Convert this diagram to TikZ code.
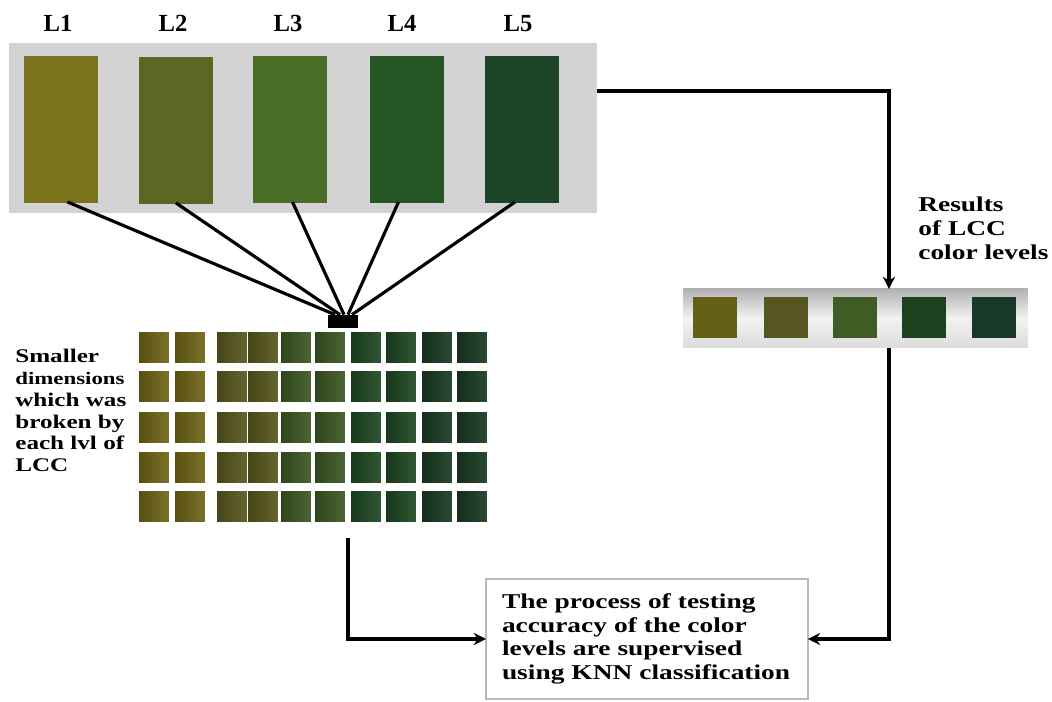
\documentclass[tikz,border=0pt]{standalone}
\usepackage{fontspec}
\setmainfont{Liberation Serif}
\newfontfamily\widefont{Liberation Serif}[FakeStretch=1.3]
\usetikzlibrary{arrows.meta}
\definecolor{panelgray}{RGB}{211,211,211}
\definecolor{lv1}{RGB}{122,114,28}
\definecolor{lv2}{RGB}{94,102,36}
\definecolor{lv3}{RGB}{72,110,40}
\definecolor{lv4}{RGB}{38,86,36}
\definecolor{lv5}{RGB}{28,68,38}
\definecolor{gc1}{RGB}{112,102,22}
\definecolor{gc2}{RGB}{88,88,30}
\definecolor{gc3}{RGB}{60,88,34}
\definecolor{gc4}{RGB}{30,72,34}
\definecolor{gc5}{RGB}{24,58,34}
\definecolor{rc1}{RGB}{102,96,22}
\definecolor{rc2}{RGB}{86,86,32}
\definecolor{rc3}{RGB}{62,92,36}
\definecolor{rc4}{RGB}{30,66,32}
\definecolor{rc5}{RGB}{24,56,40}
\begin{document}
\begin{tikzpicture}[x=0.02cm,y=-0.02cm,
  box/.style={rectangle, inner sep=0pt, outer sep=0pt, anchor=north west},
  swatch/.style={box, minimum width=1.48cm, minimum height=2.94cm},
  cell/.style={box, minimum width=0.6cm, minimum height=0.6cm},
  rsq/.style={box, minimum width=0.88cm, minimum height=0.82cm},
  lvl/.style={inner sep=0pt, anchor=base, font=\fontsize{14}{16}\selectfont\bfseries},
  wtext/.style={inner sep=0pt, align=left, font=\widefont\bfseries},
  conn/.style={line width=1.8pt, black},
  arr/.style={conn, -{Stealth[length=7pt,width=7pt]}}]
\useasboundingbox (0,0) rectangle (1052,702);
\fill[white] (0,0) rectangle (1052,702);

% top panel with the five LCC levels
\node[box, fill=panelgray, minimum width=11.76cm, minimum height=3.4cm] (panel) at (9,43) {};
\node[swatch, fill=lv1] (s1) at (24,56) {};
\node[swatch, fill=lv2] (s2) at (139,57) {};
\node[swatch, fill=lv3] (s3) at (253,56) {};
\node[swatch, fill=lv4] (s4) at (370,56) {};
\node[swatch, fill=lv5] (s5) at (485,56) {};
\node[lvl] (t1) at (58,32) {L1};
\node[lvl] (t2) at (173,32) {L2};
\node[lvl] (t3) at (288,32) {L3};
\node[lvl] (t4) at (402,32) {L4};
\node[lvl] (t5) at (518,32) {L5};

% hub where the lines meet
\node[rectangle, fill=black, inner sep=0pt, minimum width=0.6cm, minimum height=0.26cm] (hub) at (343,321.5) {};
\draw[conn] ([xshift=0.13cm,yshift=0.02cm]s1.south) -- ([xshift=-0.16cm]hub.north);
\draw[conn] ([xshift=0cm,yshift=0.02cm]s2.south) -- ([xshift=-0.06cm]hub.north);
\draw[conn] ([xshift=0.05cm,yshift=0.02cm]s3.south) -- ([xshift=0.02cm]hub.north);
\draw[conn] ([xshift=-0.17cm,yshift=0.02cm]s4.south) -- ([xshift=0.1cm]hub.north);
\draw[conn] ([xshift=-0.14cm,yshift=0.02cm]s5.south) -- ([xshift=0.18cm]hub.north);

% grid of smaller squares
\foreach \c/\xx/\col in {1/139/gc1,2/175/gc1,3/217/gc2,4/248/gc2,5/281/gc3,6/315/gc3,7/351/gc4,8/386/gc4,9/422/gc5,10/457/gc5}
  \foreach \r/\yy in {1/333,2/372,3/413,4/453,5/492}
    \node[cell, left color=\col!78!black, right color=\col!92!white] (g\r-\c) at (\xx,\yy) {};

\node[wtext, anchor=north west, font=\widefont\bfseries\fontsize{11}{12.4}\selectfont] (ltext) at (15,349)
  {Smaller\\{\fontsize{10}{12.4}\selectfont dimensions}\\which was\\broken by\\each lvl of\\LCC};

% right panel with result levels
\node[box, minimum width=6.9cm, minimum height=1.18cm, top color=gray!60, bottom color=gray!28, middle color=gray!10] (rpanel) at (683,289) {};
\node[rsq, fill=rc1] (r1) at (693,297) {};
\node[rsq, fill=rc2] (r2) at (764,297) {};
\node[rsq, fill=rc3] (r3) at (833,297) {};
\node[rsq, fill=rc4] (r4) at (902,297) {};
\node[rsq, fill=rc5] (r5) at (972,297) {};

\node[wtext, anchor=north west, font=\widefont\bfseries\fontsize{12}{13.6}\selectfont] (rtext) at (918,197)
  {Results\\of LCC\\color levels};

% KNN box
\node[box, draw=gray!55, line width=1.2pt, minimum width=6.44cm, minimum height=2.4cm,
  text width=5.8cm, inner xsep=0.32cm, align=left, font=\widefont\bfseries\fontsize{12}{13.5}\selectfont] (knn) at (486,579)
  {The process of testing\\accuracy of the color\\levels are supervised\\using KNN classification};

% connectors
\draw[arr] ([yshift=0.74cm]panel.east) -| ([xshift=0.67cm]rpanel.north);
\draw[arr] ([xshift=0.67cm]rpanel.south) |- (knn.east);
\draw[arr] ([xshift=0.36cm,yshift=-0.32cm]g5-6.south) |- (knn.west);
\end{tikzpicture}
\end{document}
